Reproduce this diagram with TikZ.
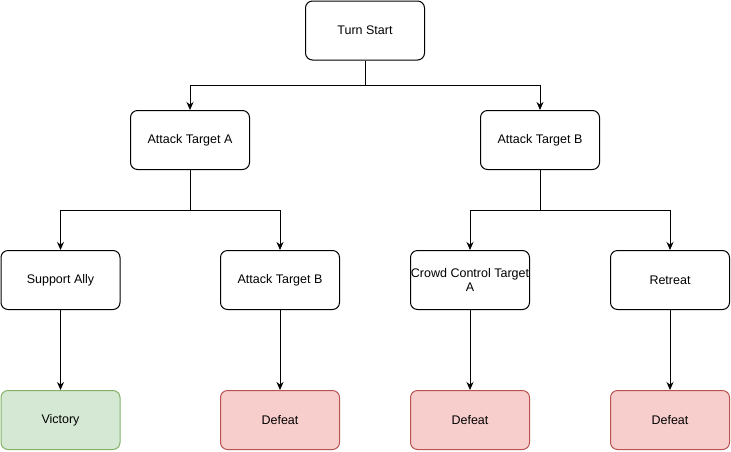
\documentclass[tikz,border=0pt]{standalone}
\usepackage{fontspec}
\setmainfont{Liberation Sans}
\usetikzlibrary{arrows.meta}
\definecolor{winfill}{HTML}{D5E8D4}
\definecolor{windraw}{HTML}{82B366}
\definecolor{losefill}{HTML}{F8CECC}
\definecolor{losedraw}{HTML}{B85450}
\begin{document}
\begin{tikzpicture}[x=1pt,y=-1pt,
					choicenode/.style={rectangle, rounded corners=7pt, draw=black, line width=1pt, fill=white, minimum width=119pt, minimum height=59pt, align=center, inner sep=0pt, font=\fontsize{12.5}{14.5}\selectfont},
					winnode/.style={choicenode, fill=winfill, draw=windraw},
					losenode/.style={choicenode, fill=losefill, draw=losedraw},
					link/.style={line width=1pt, -{Stealth[length=8pt,width=7pt]}},
					]
					\useasboundingbox (0,0) rectangle (731,451);
					%Nodes
					\node[choicenode]     (start)  at  (365,30.5)   {Turn Start};
					\node[choicenode]     (atkA)   at  (190,140)    {Attack Target A};
					\node[choicenode]     (atkB)   at  (540,140)    {Attack Target B};
					\node[choicenode]     (ally)   at  (60.5,280)   {Support Ally};
					\node[choicenode]     (atkAB)  at  (280,280)    {Attack Target B};
					\node[choicenode]     (crowd)  at  (470,280)    {Crowd Control Target\\A};
					\node[choicenode]     (retr)   at  (670,280)    {Retreat};
					\node[winnode]        (win)    at  (60.5,420)   {Victory};
					\node[losenode]       (lose1)  at  (280,420)    {Defeat};
					\node[losenode]       (lose2)  at  (470,420)    {Defeat};
					\node[losenode]       (lose3)  at  (670,420)    {Defeat};

					%Lines
					\draw[link] (start.south) -- ++(0,25) -| (atkA.north);
					\draw[link] (start.south) -- ++(0,25) -| (atkB.north);
					\draw[link] (atkA.south) -- ++(0,40) -| (ally.north);
					\draw[link] (atkA.south) -- ++(0,40) -| (atkAB.north);
					\draw[link] (atkB.south) -- ++(0,40) -| (crowd.north);
					\draw[link] (atkB.south) -- ++(0,40) -| (retr.north);

					\draw[link] (ally.south) -- (win.north);
					\draw[link] (atkAB.south) -- (lose1.north);
					\draw[link] (crowd.south) -- (lose2.north);
					\draw[link] (retr.south) -- (lose3.north);
				\end{tikzpicture}
\end{document}
